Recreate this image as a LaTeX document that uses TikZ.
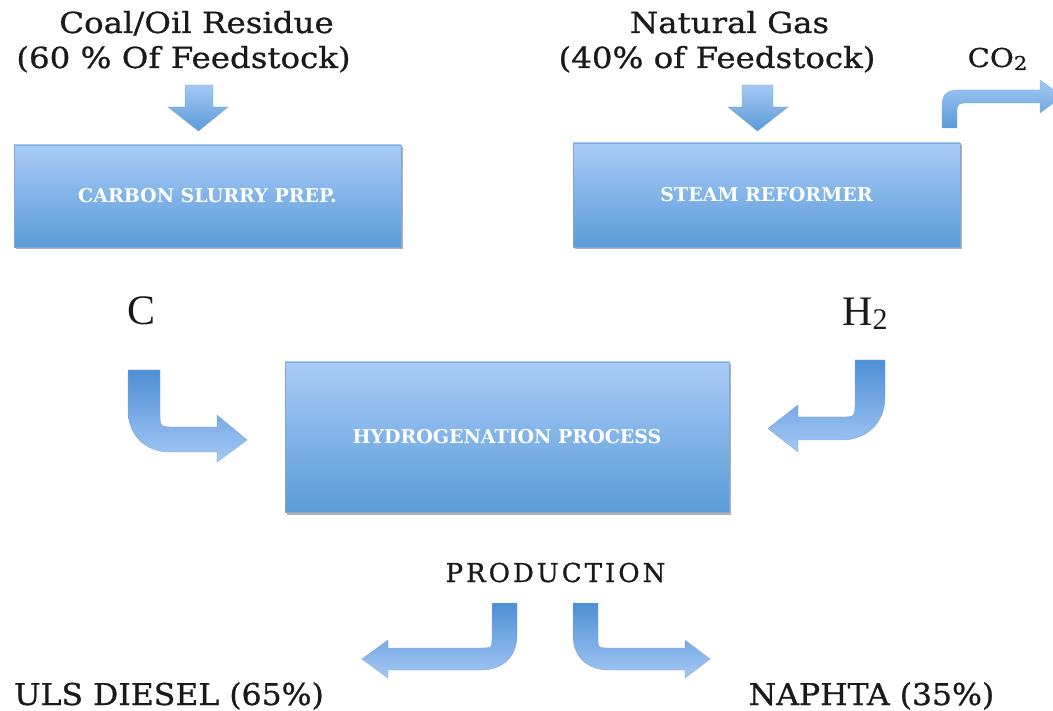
\documentclass[tikz,border=0pt]{standalone}
\usepackage{fontspec}
\setmainfont{DejaVu Serif}
\newfontfamily\lblfont[FakeStretch=1.12, FakeBold=0.8]{DejaVu Serif}
\newfontfamily\botfont[FakeStretch=1.05, FakeBold=0.8]{DejaVu Serif}
\newfontfamily\prodfont[FakeBold=0.8]{DejaVu Serif}
\newfontfamily\symfont{Liberation Serif}
\usetikzlibrary{shadows}
\definecolor{boxtop}{HTML}{A9CCF8}
\definecolor{boxbot}{HTML}{5B9BD8}
\definecolor{boxline}{HTML}{7FA8DA}
\definecolor{arrdark}{HTML}{4F8FD6}
\definecolor{arrlight}{HTML}{A4C8F4}
\definecolor{txt}{HTML}{1A1A1A}
\tikzset{
  procbox/.style={draw=boxline, line width=0.8pt, top color=boxtop, bottom color=boxbot,
    drop shadow={shadow xshift=2pt, shadow yshift=-2.5pt, opacity=0.3, fill=black},
    text=white, font=\bfseries\fontsize{19}{22}\selectfont, inner sep=0pt},
  lbl/.style={text=txt, inner sep=0pt, anchor=base, font=\lblfont\fontsize{29}{34}\selectfont},
  botlbl/.style={text=txt, inner sep=0pt, anchor=base, font=\botfont\fontsize{30}{34}\selectfont},
  sym/.style={text=txt, inner sep=0pt, anchor=base, font=\symfont\fontsize{42}{46}\selectfont},
  blockdown/.style={draw=boxline, line width=0.4pt, top color=arrlight, bottom color=boxbot},
  blockup/.style={draw=boxline, line width=0.4pt, top color=arrdark, bottom color=arrlight},
}
\begin{document}
\begin{tikzpicture}[x=1pt, y=-1pt]
\clip (0,0) rectangle (1053,711);
% boxes
\node[procbox, minimum width=387pt, minimum height=102pt] (slurry) at (207.5,196) {CARBON SLURRY PREP.};
\node[procbox, minimum width=387pt, minimum height=104pt] (steam) at (766.5,195) {STEAM REFORMER};
\node[procbox, minimum width=444pt, minimum height=150pt] (hydro) at (507,437) {HYDROGENATION PROCESS};
% labels
\node[lbl] (coal1) at (196.5,33) {Coal/Oil Residue};
\node[lbl] (coal2) at (183.5,68) {(60 \% Of Feedstock)};
\node[lbl] (gas1) at (729.5,33) {Natural Gas};
\node[lbl] (gas2) at (717,68) {(40\% of Feedstock)};
\node[text=txt, inner sep=0pt, anchor=base, font=\lblfont\fontsize{26}{30}\selectfont] (co2) at (997.5,67) {CO\raisebox{-3pt}{\fontsize{19}{22}\selectfont 2}};
\node[sym] (c) at (142,325) {C};
\node[sym] (h2) at (865,326) {H\raisebox{-4pt}{\fontsize{30}{32}\selectfont 2}};
\node[text=txt, inner sep=0pt, anchor=base, font=\prodfont\fontsize{26}{30}\selectfont] (prod) at (555.5,582) {P\kern3pt R\kern3pt O\kern3pt D\kern3pt U\kern3pt C\kern3pt T\kern3pt I\kern3pt O\kern3pt N};
\node[botlbl] (diesel) at (169,705) {ULS DIESEL (65\%)};
\node[botlbl] (naphta) at (871.5,705) {NAPHTA (35\%)};
% down arrows
\path[blockdown] (185,85) -- (213,85) -- (213,107) -- (228,107) -- (198.5,131) -- (168,107) -- (185,107) -- cycle;
\path[blockdown] (742,85) -- (773,85) -- (773,107) -- (788,107) -- (757.5,131) -- (728,107) -- (742,107) -- cycle;
% CO2 arrow
\path[blockdown] (942,128) -- (942,108) .. controls (942,94) and (946,90) .. (960,90) -- (1040,90) -- (1040,80) -- (1062,96.5) -- (1040,113) -- (1040,103) -- (965,103) .. controls (959,103) and (957,105) .. (957,110) -- (957,128) -- cycle;
% C arrow
\path[blockup] (128,370) -- (160,370) -- (160,412) .. controls (160,427) .. (175,427) -- (217,427) -- (217,415) -- (247,440) -- (217,462) -- (217,452) -- (170,452) .. controls (145,452) and (128,435) .. (128,410) -- cycle;
% H2 arrow
\path[blockup] (885,360) -- (855,360) -- (855,402) .. controls (855,417) .. (840,417) -- (798,417) -- (798,405) -- (768,428.5) -- (798,452) -- (798,440) -- (842,440) .. controls (867,440) and (885,422) .. (885,398) -- cycle;
% production arrows
\path[blockup] (517,603) -- (492,603) -- (492,636) .. controls (492,648) .. (480,648) -- (388,648) -- (388,640) -- (362,659) -- (388,678) -- (388,670) -- (480,670) .. controls (505,670) and (517,655) .. (517,635) -- cycle;
\path[blockup] (573,603) -- (598,603) -- (598,636) .. controls (598,648) .. (610,648) -- (685,648) -- (685,640) -- (710,659) -- (685,678) -- (685,670) -- (610,670) .. controls (585,670) and (573,655) .. (573,635) -- cycle;
\end{tikzpicture}
\end{document}
